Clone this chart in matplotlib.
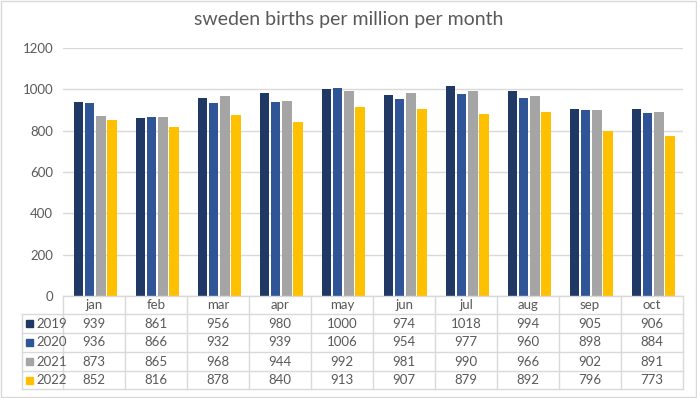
import matplotlib
matplotlib.use("Agg")
import matplotlib.pyplot as plt
import numpy as np

months = ['jan', 'feb', 'mar', 'apr', 'may', 'jun', 'jul', 'aug', 'sep', 'oct']
years = ['2019', '2020', '2021', '2022']
births_2019 = [939, 861, 956, 980, 1000, 974, 1018, 994, 905, 906]
births_2020 = [936, 866, 932, 939, 1006, 954, 977, 960, 898, 884]
births_2021 = [873, 865, 968, 944, 992, 981, 990, 966, 902, 891]
births_2022 = [852, 816, 878, 840, 913, 907, 879, 892, 796, 773]

series = [births_2019, births_2020, births_2021, births_2022]
colors = ['#203864', '#2F5597', '#A5A5A5', '#FFC000']

plt.rcParams['font.family'] = ['Lato', 'DejaVu Sans']
text_col = '#595959'
grid_col = '#D9D9D9'

W, H = 697, 398
fig = plt.figure(figsize=(W / 100, H / 100), dpi=100)

def fx(px):
    return px / W

def fy(py):
    return 1 - py / H

# outer chart border
fig.patches.append(plt.Rectangle((fx(1), fy(397)), fx(695), 396 / H, transform=fig.transFigure,
                                 fill=False, edgecolor=grid_col, linewidth=1))

# plot area
left, right, top, bottom = 63, 683, 48, 296
ax = fig.add_axes([fx(left), fy(bottom), fx(right - left), (bottom - top) / H])

x = np.arange(len(months))
bar_w = 0.153
step = 0.182
for i, (vals, c) in enumerate(zip(series, colors)):
    ax.bar(x + (i - 1.5) * step + 0.02, vals, width=bar_w, color=c, zorder=3)

ax.set_xlim(-0.5, len(months) - 0.5)
ax.set_ylim(0, 1200)
ax.set_yticks(range(0, 1201, 200))
ax.yaxis.grid(True, color=grid_col, linewidth=1, zorder=0)
ax.set_xticks([])
for s in ax.spines.values():
    s.set_visible(False)
ax.tick_params(axis='y', length=0, labelsize=9.5, labelcolor=text_col, pad=7)

fig.text(0.5, fy(20), 'sweden births per million per month', ha='center', va='center',
         fontsize=14, color=text_col)

# data table under the plot
row_y = [296, 314, 333, 352, 371, 389]
col_w = (right - left) / len(months)
tbl_left = 22
line_kw = dict(color=grid_col, linewidth=1, transform=fig.transFigure)

# horizontal lines
fig.add_artist(plt.Line2D([fx(left), fx(right)], [fy(row_y[0])] * 2, **line_kw))
for ry in row_y[1:]:
    fig.add_artist(plt.Line2D([fx(tbl_left), fx(right)], [fy(ry)] * 2, **line_kw))
# vertical lines
fig.add_artist(plt.Line2D([fx(tbl_left)] * 2, [fy(row_y[1]), fy(row_y[-1])], **line_kw))
for j in range(len(months) + 1):
    cx = left + j * col_w
    fig.add_artist(plt.Line2D([fx(cx)] * 2, [fy(row_y[0]), fy(row_y[-1])], **line_kw))

# header row
for j, m in enumerate(months):
    cx = left + (j + 0.5) * col_w
    fig.text(fx(cx), fy((row_y[0] + row_y[1]) / 2), m, ha='center', va='center',
             fontsize=9.5, color=text_col)

# data rows with legend keys
for i, (yr, vals, c) in enumerate(zip(years, series, colors)):
    cy = (row_y[i + 1] + row_y[i + 2]) / 2
    fig.patches.append(plt.Rectangle((fx(26), fy(cy + 3.5)), fx(7), 7 / H,
                                     transform=fig.transFigure, color=c))
    fig.text(fx(36), fy(cy), yr, ha='left', va='center', fontsize=9.5, color=text_col)
    for j, v in enumerate(vals):
        cx = left + (j + 0.5) * col_w
        fig.text(fx(cx), fy(cy), str(v), ha='center', va='center', fontsize=9.5, color=text_col)

fig.savefig('out.png', dpi=100)
